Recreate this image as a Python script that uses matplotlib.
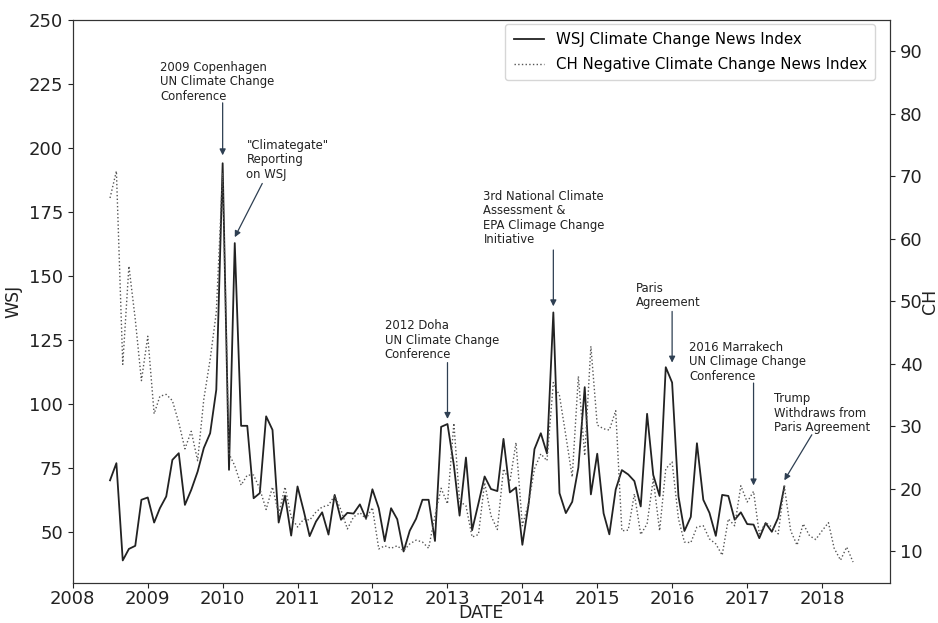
import matplotlib
matplotlib.use("Agg")
import matplotlib.pyplot as plt
import matplotlib.dates as mdates
import pandas as pd

# ---------------- data (monthly, starting July 2008) ----------------
wsj_start = "2008-07-01"
wsj_values = [
    70.0, 76.7, 38.7, 43.2, 44.4, 62.4, 63.3, 53.5, 59.1, 63.7, 78.0, 80.6,
    60.4, 66.3, 73.4, 82.6, 88.4, 105.4, 193.9, 74.1, 162.7, 91.3, 91.3, 63.0,
    65.0, 95.0, 89.7, 53.5, 64.0, 48.4, 67.6, 57.8, 48.2, 53.9, 57.5, 48.8,
    64.3, 54.6, 57.3, 57.0, 60.6, 55.0, 66.5, 59.1, 46.2, 59.1, 54.8, 42.2,
    50.3, 55.0, 62.4, 62.4, 46.3, 90.9, 92.0, 76.0, 56.2, 78.9, 50.5, 61.0,
    71.5, 66.6, 65.8, 86.2, 65.3, 67.2, 44.8, 61.1, 82.2, 88.4, 80.5, 135.6,
    65.0, 57.2, 61.6, 75.0, 106.4, 64.5, 80.4, 57.1, 48.9, 66.4, 74.0, 72.3,
    69.7, 59.8, 96.0, 72.1, 63.9, 114.2, 108.2, 63.7, 50.2, 55.7, 84.5, 62.4,
    57.3, 48.3, 64.3, 63.9, 54.6, 57.5, 52.9, 52.7, 47.4, 53.3, 49.9, 55.4,
    67.6,
]

ch_start = "2008-07-01"
ch_values = [
    66.5, 70.8, 39.9, 55.6, 47.1, 37.3, 44.4, 32.0, 34.8, 35.1, 34.1, 30.6,
    26.4, 29.2, 24.5, 34.3, 40.7, 48.2, 70.5, 25.6, 23.7, 20.6, 22.2, 22.2,
    20.0, 16.7, 20.3, 16.0, 20.3, 15.5, 13.9, 15.2, 15.0, 16.3, 17.1, 17.4,
    18.9, 16.6, 13.6, 15.5, 16.2, 15.2, 17.0, 10.4, 10.9, 10.5, 10.9, 10.1,
    11.2, 11.8, 11.5, 10.5, 15.7, 20.1, 17.6, 30.5, 18.0, 17.3, 12.3, 12.7,
    21.0, 15.7, 13.5, 23.2, 21.1, 27.4, 14.1, 17.8, 23.2, 25.6, 24.5, 37.0,
    34.9, 28.5, 21.9, 38.0, 25.3, 42.8, 30.2, 29.6, 29.4, 32.5, 13.3, 13.4,
    19.2, 12.7, 14.4, 21.6, 13.3, 23.2, 24.3, 15.2, 11.5, 11.4, 13.9, 14.1,
    12.0, 11.2, 9.4, 15.2, 14.1, 20.5, 17.9, 19.6, 12.8, 14.6, 13.9, 12.8,
    20.4, 13.3, 11.0, 14.4, 12.5, 11.9, 13.3, 14.6, 10.5, 8.6, 10.7, 8.3,
]

series_labels = ["WSJ Climate Change News Index",
                 "CH Negative Climate Change News Index"]

# annotations: text, text anchor (date, WSJ value), arrow tail, arrow tip
ann_texts = [
    "2009 Copenhagen\nUN Climate Change\nConference",
    "\"Climategate\"\nReporting\non WSJ",
    "2012 Doha\nUN Climate Change\nConference",
    "3rd National Climate\nAssessment &\nEPA Climage Change\nInitiative",
    "Paris\nAgreement",
    "2016 Marrakech\nUN Climage Change\nConference",
    "Trump\nWithdraws from\nParis Agreement",
]
ann_text_dates = ["2009-03-01", "2010-04-27", "2012-03-01", "2013-06-25",
                  "2015-07-09", "2016-03-25", "2017-05-10"]
ann_text_vals = [234.0, 203.5, 133.0, 183.5, 147.5, 124.5, 104.5]
ann_tail_dates = ["2010-01-01", "2010-07-13", "2013-01-01", "2014-06-01",
                  "2016-01-01", "2017-02-01", "2017-11-12"]
ann_tail_vals = [217.5, 186.0, 116.0, 160.0, 136.0, 108.0, 87.8]
ann_tip_dates = ["2010-01-01", "2010-03-01", "2013-01-01", "2014-06-01",
                 "2016-01-01", "2017-02-01", "2017-07-01"]
ann_tip_vals = [197.0, 165.0, 94.0, 138.0, 116.0, 68.0, 70.0]

# ---------------- plot ----------------
wsj_dates = pd.date_range(wsj_start, periods=len(wsj_values), freq="MS")
ch_dates = pd.date_range(ch_start, periods=len(ch_values), freq="MS")

fig = plt.figure(figsize=(9.38, 6.23), dpi=100)
ax = fig.add_axes([0.0775, 0.0647, 0.8713, 0.9037])
ax2 = ax.twinx()

l1, = ax.plot(wsj_dates, wsj_values, color="#222222", lw=1.3)
l2, = ax2.plot(ch_dates, ch_values, color="#555555", lw=1.0, ls=":")

ax.set_xlim(pd.Timestamp("2008-01-01"), pd.Timestamp("2018-11-28"))
ax.set_ylim(30, 250)
ax2.set_ylim(5, 95)
ax.set_yticks([50, 75, 100, 125, 150, 175, 200, 225, 250])
ax2.set_yticks([10, 20, 30, 40, 50, 60, 70, 80, 90])
ax.xaxis.set_major_locator(mdates.YearLocator(1))
ax.xaxis.set_major_formatter(mdates.DateFormatter("%Y"))

tick_fs = 13
ax.tick_params(labelsize=tick_fs, colors="#222222")
ax.tick_params(axis="x", pad=2)
ax2.tick_params(labelsize=tick_fs, colors="#222222")
ax.set_xlabel("DATE", fontsize=12.5, color="#222222", labelpad=-3)
ax.set_ylabel("WSJ", fontsize=12.5, color="#222222", labelpad=4)
ax2.set_ylabel("CH", fontsize=12.5, color="#222222", labelpad=-1)
for a in (ax, ax2):
    for s in a.spines.values():
        s.set_color("#333333")

for txt, td, tv, ad, av, pd_, pv in zip(ann_texts, ann_text_dates, ann_text_vals,
                                        ann_tail_dates, ann_tail_vals,
                                        ann_tip_dates, ann_tip_vals):
    ax.text(pd.Timestamp(td), tv, txt, ha="left", va="top", fontsize=8.4,
            color="#222222", linespacing=1.15)
    ax.annotate("", xy=(pd.Timestamp(pd_), pv), xytext=(pd.Timestamp(ad), av),
                arrowprops=dict(arrowstyle="-|>", color="#2e3f52", lw=0.9,
                                shrinkA=0, shrinkB=0, mutation_scale=9))

ax.legend([l1, l2], series_labels, loc="upper right", fontsize=10.8,
          bbox_to_anchor=(0.991, 1.006), labelspacing=0.65, borderpad=0.55)

fig.savefig("out.png", dpi=100)
